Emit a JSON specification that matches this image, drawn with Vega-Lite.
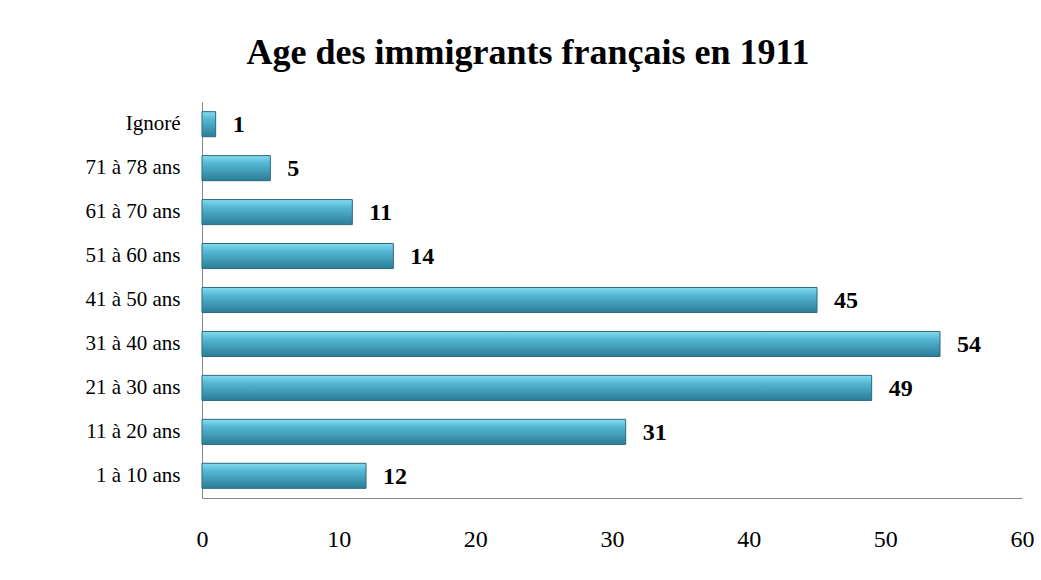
{
  "$schema": "https://vega.github.io/schema/vega-lite/v6.json",
  "autosize": {"type": "none"},
  "width": 820,
  "height": 396,
  "padding": {"left": 202, "top": 102, "right": 19, "bottom": 82},
  "background": "white",
  "title": {
    "text": "Age des immigrants français en 1911",
    "font": "Liberation Serif",
    "fontSize": 36,
    "fontWeight": "bold",
    "color": "#000000",
    "anchor": "middle",
    "dx": -84,
    "offset": 30
  },
  "data": {
    "values": [
      {"age": "Ignoré", "n": 1},
      {"age": "71 à 78 ans", "n": 5},
      {"age": "61 à 70 ans", "n": 11},
      {"age": "51 à 60 ans", "n": 14},
      {"age": "41 à 50 ans", "n": 45},
      {"age": "31 à 40 ans", "n": 54},
      {"age": "21 à 30 ans", "n": 49},
      {"age": "11 à 20 ans", "n": 31},
      {"age": "1 à 10 ans", "n": 12}
    ]
  },
  "encoding": {
    "y": {
      "field": "age",
      "type": "nominal",
      "sort": null,
      "scale": {"paddingInner": 0.43, "paddingOuter": 0.22},
      "axis": {
        "title": null,
        "ticks": false,
        "domainColor": "#888888",
        "labelFont": "Liberation Serif",
        "labelFontSize": 21,
        "labelColor": "#000000",
        "labelPadding": 22
      }
    },
    "x": {
      "field": "n",
      "type": "quantitative",
      "scale": {"domain": [0, 60], "nice": false},
      "axis": {
        "title": null,
        "values": [0, 10, 20, 30, 40, 50, 60],
        "grid": false,
        "ticks": false,
        "labelFlush": false,
        "domainColor": "#888888",
        "labelFont": "Liberation Serif",
        "labelFontSize": 24,
        "labelColor": "#000000",
        "labelPadding": 29
      }
    }
  },
  "layer": [
    {
      "mark": {
        "type": "bar",
        "fill": {
          "gradient": "linear",
          "x1": 0, "y1": 0, "x2": 0, "y2": 1,
          "stops": [
            {"offset": 0, "color": "#86dcf0"},
            {"offset": 0.3, "color": "#55b8d4"},
            {"offset": 1, "color": "#2a7d97"}
          ]
        },
        "stroke": "#2a6a7c",
        "strokeWidth": 1
      }
    },
    {
      "mark": {
        "type": "text",
        "align": "left",
        "baseline": "middle",
        "dx": 17,
        "dy": 1,
        "font": "Liberation Serif",
        "fontSize": 24,
        "fontWeight": "bold",
        "color": "#000000"
      },
      "encoding": {"text": {"field": "n", "type": "quantitative"}}
    }
  ],
  "config": {"view": {"stroke": null}}
}
